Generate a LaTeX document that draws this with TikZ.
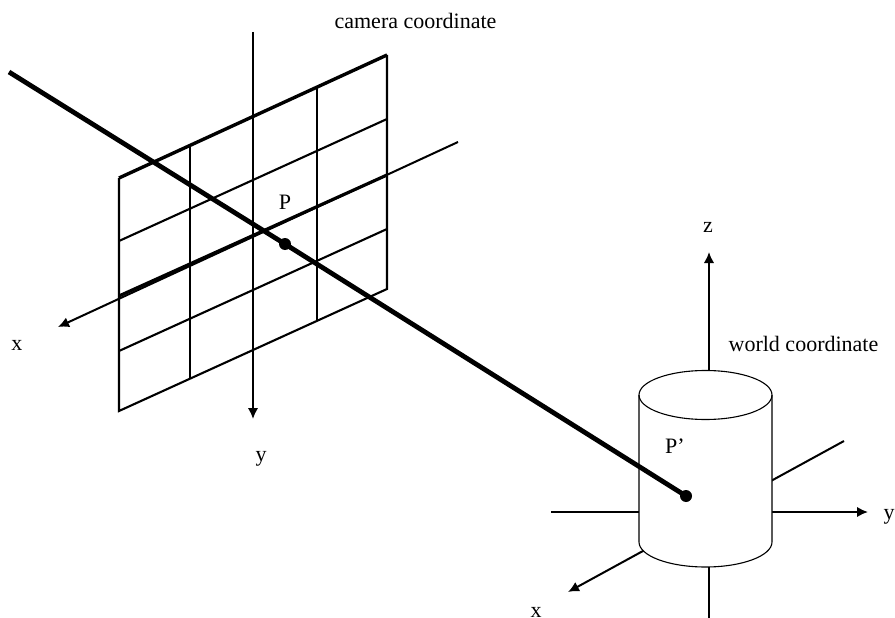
\documentclass[tikz,border=0pt]{standalone}
\usepackage{fontspec}
\setmainfont{Liberation Serif}
\usetikzlibrary{arrows.meta}

\begin{document}
\begin{tikzpicture}[x=1pt, y=-1pt, every node/.style={font=\fontsize{22}{26}\selectfont, inner sep=0pt}, >={Latex[length=11pt, width=10.5pt]},
	gridline/.style={line width=2.1pt}, axisline/.style={line width=2pt}, rayline/.style={line width=4.8pt}, cylline/.style={line width=1.1pt}]
	\useasboundingbox (0,0) rectangle (895,618);
	% image plane
	\coordinate (tl) at (119,178);
	\coordinate (tr) at (387,55);
	\coordinate (br) at (387,289);
	\coordinate (bl) at (119,411);
	\foreach \ya/\yb in {241/119,351/229} {\draw[gridline] (119,\ya) -- (387,\yb);}
	\foreach \xa/\ya/\yb in {190/146/378,317/88/321} {\draw[gridline] (\xa,\ya) -- (\xa,\yb);}
	\draw[gridline, line join=miter] (tl) -- (bl) -- (br) -- (tr);
	\draw[line width=3.4pt] (tl) -- (tr);
	% camera axes
	\coordinate (camtop) at (253,32);
	\coordinate (camend) at (253,419);
	\coordinate (camfar) at (458,142);
	\coordinate (camx) at (58,327);
	\coordinate (pa) at (119,296);
	\coordinate (pb) at (387,175);
	\draw[->, axisline] (camtop) -- (camend);
	\draw[->, axisline] (camfar) -- (camx);
	\draw[line width=3.2pt] (pa) -- (pb);
	% world axes
	\coordinate (ztop) at (709,252);
	\coordinate (zbot) at (709,618);
	\coordinate (yleft) at (551,512);
	\coordinate (yright) at (868,512);
	\coordinate (xfar) at (844,441);
	\coordinate (xnear) at (568,592);
	\draw[->, axisline] (zbot) -- (ztop);
	\draw[->, axisline] (yleft) -- (yright);
	\draw[->, axisline] (xfar) -- (xnear);
	% cylinder
	\fill[white] (639,395) -- (639,542) arc[start angle=180, end angle=0, x radius=66.5, y radius=25] -- (772,395) -- cycle;
	\draw[cylline, fill=white] (705.5,395) ellipse[x radius=66.5, y radius=24.5];
	\draw[cylline] (639,395) -- (639,542) arc[start angle=180, end angle=0, x radius=66.5, y radius=25] -- (772,395);
	% ray
	\coordinate (raystart) at (9,72);
	\coordinate (pimg) at (285,244);
	\coordinate (pworld) at (686,496);
	\draw[rayline] (raystart) -- (pimg) -- (pworld);
	\fill (pimg) circle (6);
	\fill (pworld) circle (6);
	% labels
	\node (camlabel) at (415.5,21) {camera coordinate};
	\node (worldlabel) at (803.5,344) {world coordinate};
	\node (plabel) at (285,202) {P};
	\node (pplabel) at (675,446) {P’};
	\node (camxlabel) at (17,345) {x};
	\node (camylabel) at (261,459) {y};
	\node (zlabel) at (708,227) {z};
	\node (ylabel) at (889,517) {y};
	\node (xlabel) at (536,612) {x};
\end{tikzpicture}
\end{document}
